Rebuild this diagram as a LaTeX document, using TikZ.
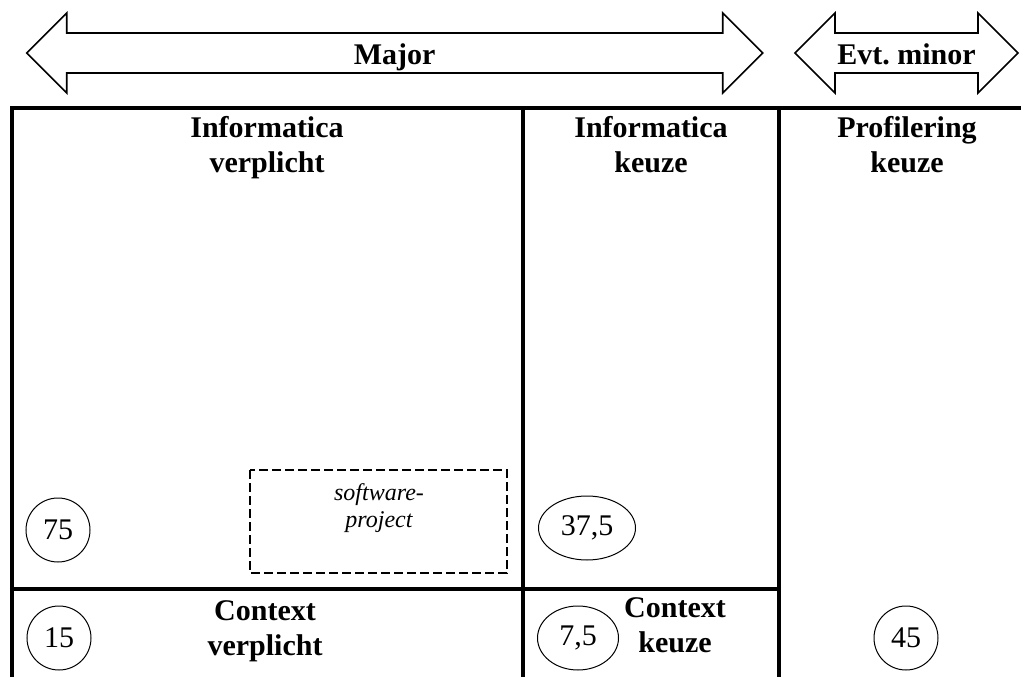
\documentclass[tikz,border=0pt]{standalone}
\usepackage{fontspec}
\setmainfont{Liberation Serif}
\usepackage{tikz}
\usetikzlibrary{shapes}

% dubbele pijl boven de tabel: naam, linkerpunt, rechterpunt, tekst
\newcommand{\studiepijl}[4]{
	\draw[pijl] (#2,53) -- (#2+40,13) -- (#2+40,33) -- (#3-40,33) -- (#3-40,13) -- (#3,53)
		-- (#3-40,93) -- (#3-40,73) -- (#2+40,73) -- (#2+40,93) -- cycle;
	\node[kop] (#1) at ({(#2+#3)/2},65) {#4};
}

\begin{document}
\begin{tikzpicture}[x=0.75pt,y=-0.75pt]
			\tikzstyle{pijl}=[draw,line width=1.2pt,line join=miter]
			\tikzstyle{kop}=[anchor=base,inner sep=0pt,align=center,font=\fontsize{22.5}{26.25}\selectfont\bfseries]
			\tikzstyle{lijn}=[line width=2.5pt]
			\tikzstyle{stippel}=[line width=1.6pt,dash pattern=on 6.75pt off 3pt]
			\tikzstyle{punten}=[draw,line width=0.75pt,inner sep=0pt,minimum height=48pt,font=\fontsize{22.5}{26}\selectfont]
			\tikzstyle{rond}=[punten,circle,minimum size=48pt]
			\tikzstyle{ovaal}=[punten,ellipse]
			
			\useasboundingbox (0,0) rectangle (1021,677);
			
			\studiepijl{major}{26.7}{762.7}{Major}
			\studiepijl{minor}{795}{1018}{Evt.~minor}
			
			% tabel (basislijn van een kop ligt op de laatste regel)
			\draw[lijn] (12,677) -- (12,108) -- (1021,108);
			\draw[lijn] (523,108) -- (523,677);
			\draw[lijn] (779,108) -- (779,677);
			\draw[lijn] (12,589) -- (779,589);
			\draw[stippel] (250,470) rectangle (507,573);
			
			\node[kop] (infverpl) at (267,173) {Informatica\\verplicht};
			\node[kop] (infkeuze) at (651,173) {Informatica\\keuze};
			\node[kop] (profkeuze) at (907,173) {Profilering\\keuze};
			\node[kop] (ctxverpl) at (265,655) {Context\\verplicht};
			\node[kop] (ctxkeuze) at (675,652) {Context\\keuze};
			\node[anchor=base,inner sep=0pt,align=center,font=\fontsize{18}{20}\selectfont\itshape] (project) at (379,527) {software-\\project};
			
			\node[rond] (p75) at (58,530) {75};
			\node[ovaal,minimum width=72.75pt] (p375) at (587,528) {37,5};
			\node[rond] (p15) at (59,638) {15};
			\node[ovaal,minimum width=60.75pt] (p75b) at (578,638) {7,5};
			\node[rond] (p45) at (906,638) {45};
			
\end{tikzpicture}
\end{document}
